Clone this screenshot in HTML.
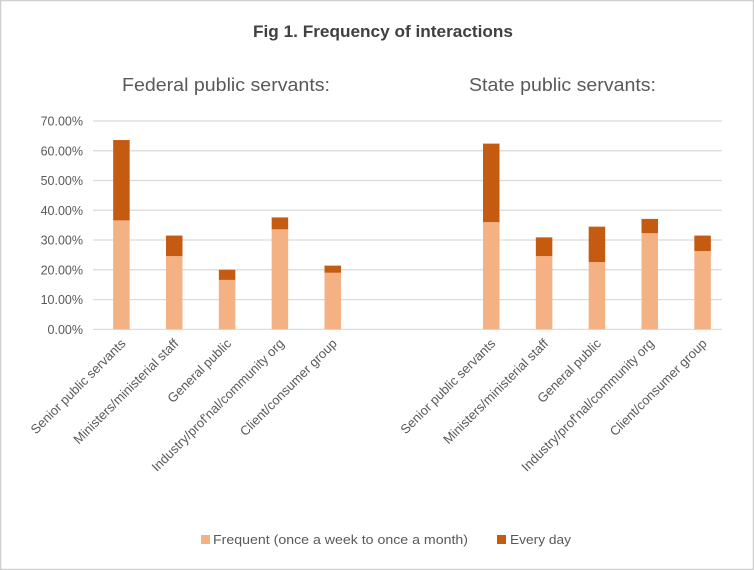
<!DOCTYPE html>
<html><head><meta charset="utf-8">
<style>
body{margin:0;background:#fff;}
svg{display:block;font-family:"Liberation Sans",sans-serif;}
</style></head>
<body>
<svg id="chart" width="754" height="570" viewBox="0 0 754 570">
<rect x="0.5" y="0.5" width="753" height="569" fill="#fff" stroke="#cfcfcf" stroke-width="1.5"/>
<text x="253" y="37" textLength="260" lengthAdjust="spacingAndGlyphs" font-size="17" font-weight="bold" fill="#404040">Fig 1. Frequency of interactions</text>
<text x="122" y="91" textLength="208" lengthAdjust="spacingAndGlyphs" font-size="18" fill="#595959">Federal public servants:</text>
<text x="469" y="91" textLength="187" lengthAdjust="spacingAndGlyphs" font-size="18" fill="#595959">State public servants:</text>
<g id="grid"></g><g id="bars"></g><g id="xlabels"></g>
<rect x="201" y="535" width="9" height="9" fill="#f4b183"/>
<text x="213" y="544" textLength="255" lengthAdjust="spacingAndGlyphs" font-size="13" fill="#595959">Frequent (once a week  to once a month)</text>
<rect x="497" y="535" width="9" height="9" fill="#c55a11"/>
<text x="510" y="544" textLength="61" lengthAdjust="spacingAndGlyphs" font-size="13" fill="#595959">Every day</text>
</svg>
<script>
const categories=["Senior public servants","Ministers/ministerial staff","General  public","Industry/prof'nal/community org","Client/consumer group","","","Senior public servants","Ministers/ministerial staff","General  public","Industry/prof'nal/community org","Client/consumer group"];
const frequent=[36.6,24.6,16.6,33.6,19.0,null,null,36.0,24.6,22.6,32.3,26.3];
const everyDay=[27.0,6.9,3.4,4.0,2.4,null,null,26.4,6.3,11.9,4.8,5.2];
const ticks=[0,10,20,30,40,50,60,70];
const tickLabels=["0.00%","10.00%","20.00%","30.00%","40.00%","50.00%","60.00%","70.00%"];
const NS="http://www.w3.org/2000/svg";
const gx0=93,gx1=722,x0=95,x1=729,y0=329.3,yTop=121;
const slot=(x1-x0)/categories.length;
function y(v){return y0-(v/70)*(y0-yTop);}
function xc(i){return x0+slot*(i+0.5);}
function mk(tag,attrs,parent){const e=document.createElementNS(NS,tag);for(const k in attrs)e.setAttribute(k,attrs[k]);document.getElementById(parent).appendChild(e);return e;}
ticks.forEach((t,i)=>{
  const l=mk('line',{x1:gx0,x2:gx1,y1:y(t),y2:y(t),stroke:'#d9d9d9','stroke-width':1.2},'grid');
  
  
  const tx=mk('text',{x:83,y:y(t)+4.5,'text-anchor':'end','font-size':12.5,fill:'#595959'},'grid');
  tx.textContent=tickLabels[i];
  
  
});
const bw=16.5;
categories.forEach((c,i)=>{
  if(frequent[i]==null)return;
  const cx=xc(i);
  const b1=mk('rect',{x:cx-bw/2,y:y(frequent[i]),width:bw,height:y0-y(frequent[i]),fill:'#f4b183'},'bars');
  
  
  const tot=frequent[i]+everyDay[i];
  const b2=mk('rect',{x:cx-bw/2,y:y(tot),width:bw,height:y(frequent[i])-y(tot),fill:'#c55a11'},'bars');
  
  
  const t=mk('text',{x:cx+5,y:y0+15,'text-anchor':'end','font-size':13,fill:'#595959',transform:`rotate(-45 ${cx+5} ${y0+15})`},'xlabels');
  t.textContent=c;
  
  
});
</script>
</body></html>
